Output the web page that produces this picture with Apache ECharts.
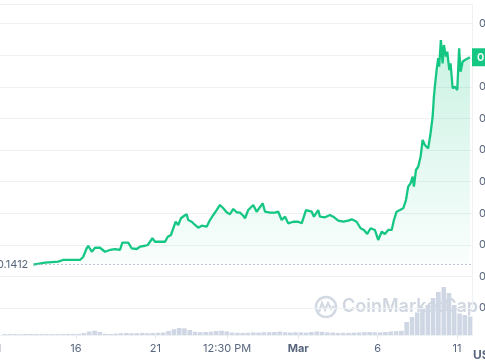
<!DOCTYPE html>
<html><head><meta charset="utf-8">
<script src="https://cdn.jsdelivr.net/npm/echarts@6/dist/echarts.min.js"></script>
<style>html,body{margin:0;padding:0;background:#fff}#c{width:485px;height:360px}</style>
</head><body><div id="c"></div>
<script>
// x values are days counted from 1 Feb 2024 (Feb 16 = 15, Mar 1 = 29)
const priceDays = [12.31,13.05,13.88,14.18,14.94,15.25,15.46,15.67,15.77,15.99,16.20,16.51,16.83,17.14,17.46,17.77,17.92,18.29,18.51,18.82,19.03,19.35,19.52,19.66,19.81,19.98,20.29,20.61,20.78,20.98,21.13,21.28,21.44,21.61,21.82,21.97,22.07,22.29,22.50,22.70,22.92,23.23,23.44,23.65,23.86,24.07,24.28,24.49,24.70,24.91,25.12,25.33,25.54,25.65,25.85,26.17,26.38,26.76,26.91,27.22,27.54,27.74,27.96,28.17,28.37,28.69,29.00,29.22,29.49,29.85,29.99,30.26,30.37,30.69,31.00,31.21,31.52,31.84,32.15,32.37,32.68,32.93,33.14,33.35,33.56,33.83,34.04,34.26,34.46,34.67,34.89,35.03,35.20,35.41,35.62,35.79,35.93,36.08,36.21,36.29,36.42,36.56,36.71,36.84,36.98,37.19,37.34,37.47,37.55,37.61,37.72,37.82,37.88,37.99,38.10,38.18,38.31,38.39,38.52,38.60,38.73,38.87,39.02,39.14,39.23,39.36,39.50,39.61,39.82];
const priceValues = [0.1412,0.1430,0.1440,0.1456,0.1456,0.1456,0.1487,0.1567,0.1591,0.1534,0.1572,0.1572,0.1534,0.1551,0.1560,0.1551,0.1620,0.1620,0.1567,0.1560,0.1582,0.1591,0.1598,0.1629,0.1662,0.1629,0.1629,0.1629,0.1677,0.1693,0.1757,0.1819,0.1788,0.1852,0.1876,0.1890,0.1835,0.1819,0.1788,0.1762,0.1781,0.1772,0.1835,0.1883,0.1930,0.1978,0.1947,0.1909,0.1890,0.1940,0.1909,0.1905,0.1876,0.1852,0.1930,0.1978,0.1914,0.1994,0.1914,0.1905,0.1905,0.1914,0.1835,0.1867,0.1804,0.1819,0.1819,0.1804,0.1930,0.1914,0.1867,0.1930,0.1867,0.1861,0.1883,0.1867,0.1829,0.1819,0.1829,0.1842,0.1819,0.1757,0.1741,0.1703,0.1757,0.1741,0.1646,0.1724,0.1703,0.1741,0.1741,0.1835,0.1914,0.1930,0.1947,0.2025,0.2152,0.2184,0.2247,0.2152,0.2310,0.2341,0.2436,0.2595,0.2547,0.2516,0.2659,0.2816,0.3006,0.3101,0.3259,0.3371,0.3291,0.3544,0.3323,0.3497,0.3386,0.3433,0.3259,0.3323,0.3086,0.3101,0.3070,0.3465,0.3243,0.3338,0.3354,0.3371,0.3380];
const startPrice = 0.1412;
const volumeDays = [10.5,10.83,11.17,11.5,11.83,12.17,12.5,12.83,13.17,13.5,13.83,14.17,14.5,14.83,15.17,15.5,15.83,16.17,16.5,16.83,17.17,17.5,17.83,18.17,18.5,18.83,19.17,19.5,19.83,20.17,20.5,20.83,21.17,21.5,21.83,22.17,22.5,22.83,23.17,23.5,23.83,24.17,24.5,24.83,25.17,25.5,25.83,26.17,26.5,26.83,27.17,27.5,27.83,28.17,28.5,28.83,29.17,29.5,29.83,30.17,30.5,30.83,31.17,31.5,31.83,32.17,32.5,32.83,33.17,33.5,33.83,34.17,34.5,34.83,35.17,35.5,35.83,36.17,36.5,36.83,37.17,37.5,37.83,38.17,38.5,38.83,39.17,39.5,39.83];
const volumeValues = [8,10,9,7,10,11,9,8,10,9,8,9,10,11,12,20,35,43,30,12,10,13,18,20,17,19,21,18,20,22,25,40,58,70,66,50,32,28,30,33,40,43,36,25,22,20,23,26,24,27,28,30,34,28,25,27,26,24,30,36,32,26,24,20,22,21,23,25,28,30,27,26,30,35,38,42,130,180,225,260,300,370,430,480,420,300,215,200,185];
const tickDays = [10, 15, 20, 24.52, 29, 34, 39];
const tickLabels = ['11', '16', '21', '12:30 PM', 'Mar', '6', '11'];

const X_MIN = 9.58, X_MAX = 39.95;
const labelColor = '#58667e';
const gridColor = '#eff2f5';
const green = '#16c784';
const lastPrice = priceValues[priceValues.length - 1];

const chart = echarts.init(document.getElementById('c'), null, {renderer: 'canvas'});
chart.setOption({
  animation: false,
  backgroundColor: '#ffffff',
  textStyle: {fontFamily: 'Inter, "Noto Sans", sans-serif'},
  grid: [
    {left: -10, right: 13, top: 4, bottom: 52, outerBoundsMode: 'none', containLabel: false},
    {left: -10, right: 13, top: 275, bottom: 25, outerBoundsMode: 'none', containLabel: false}
  ],
  xAxis: [
    {type: 'value', gridIndex: 0, min: X_MIN, max: X_MAX, show: false},
    {type: 'value', gridIndex: 1, min: X_MIN, max: X_MAX,
      axisLine: {show: true, lineStyle: {color: gridColor}},
      splitLine: {show: false},
      axisTick: {show: true, length: 4, lineStyle: {color: '#e3e7ee'}, customValues: tickDays},
      axisLabel: {
        customValues: tickDays, margin: 8, fontSize: 11, color: labelColor,
        formatter: function (v) {
          let best = 0;
          for (let i = 0; i < tickDays.length; i++) if (Math.abs(tickDays[i] - v) < Math.abs(tickDays[best] - v)) best = i;
          const t = tickLabels[best];
          return t === 'Mar' ? '{b|' + t + '}' : t;
        },
        rich: {b: {fontWeight: 700, fontSize: 11, color: labelColor}}
      }
    }
  ],
  yAxis: [
    {type: 'value', gridIndex: 0, position: 'right', min: 0.1, max: 0.3886, interval: 0.03,
      axisLine: {show: true, lineStyle: {color: gridColor}},
      axisTick: {show: false},
      splitLine: {show: true, lineStyle: {color: gridColor, width: 1}},
      axisLabel: {showMaxLabel: false, margin: 7, fontSize: 11, color: labelColor,
        formatter: function (v) { return v.toFixed(2); }}
    },
    {type: 'value', gridIndex: 1, min: 0, max: 600, show: false}
  ],
  graphic: [
    {type: 'circle', z: 0, shape: {cx: 326, cy: 307, r: 10}, style: {fill: 'none', stroke: '#d3d9e3', lineWidth: 2.5}},
    {type: 'polyline', z: 0, shape: {points: [[319, 312], [322, 303], [325, 310], [328, 303], [331, 309], [334, 306]]}, style: {fill: 'none', stroke: '#d3d9e3', lineWidth: 2.2}},
    {type: 'text', z: 0, x: 342, y: 307, style: {text: 'CoinMarketCap', fontSize: 18, fontWeight: 600, fill: '#d0d6e0', fontFamily: 'Inter, sans-serif', verticalAlign: 'middle'}},
    {type: 'text', z: 10, x: 473, y: 349, style: {text: 'USD', fontSize: 12, fontWeight: 700, fill: labelColor, fontFamily: 'Inter, sans-serif'}}
  ],
  series: [
    {
      type: 'bar', xAxisIndex: 1, yAxisIndex: 1, z: 2,
      data: volumeDays.map((d, i) => [d, volumeValues[i]]),
      barWidth: 4.6,
      itemStyle: {color: '#cfd6e4'},
      silent: true
    },
    {
      type: 'line', xAxisIndex: 0, yAxisIndex: 0, z: 3,
      data: priceDays.map((d, i) => [d, priceValues[i]]),
      showSymbol: false,
      lineStyle: {color: green, width: 2.3},
      areaStyle: {
        origin: startPrice,
        color: new echarts.graphic.LinearGradient(0, 0, 0, 1, [
          {offset: 0, color: 'rgba(22,199,132,0.32)'},
          {offset: 1, color: 'rgba(22,199,132,0.03)'}
        ])
      },
      markLine: {
        silent: true,
        symbol: 'none',
        data: [
          [
            {coord: [priceDays[0], startPrice], lineStyle: {type: [1.5, 2.5], color: '#a6b0c3', width: 1},
              label: {show: true, position: 'start', distance: 5, formatter: String(startPrice), color: labelColor, fontSize: 11}},
            {coord: [X_MAX, startPrice]}
          ]
        ]
      }
    },
    {
      type: 'line', xAxisIndex: 0, yAxisIndex: 0, z: 5,
      data: [],
      markLine: {
        silent: true,
        symbol: 'none',
        data: [
          [
            {coord: [X_MAX, lastPrice], lineStyle: {color: 'rgba(0,0,0,0)', width: 0},
              label: {show: true, position: 'end', distance: 0, formatter: lastPrice.toFixed(4),
                backgroundColor: green, color: '#ffffff', fontSize: 11, fontWeight: 600,
                padding: [3, 5], lineHeight: 12, align: 'left', verticalAlign: 'middle'}},
            {coord: [X_MAX, lastPrice]}
          ]
        ]
      }
    }
  ]
});
</script>
</body></html>
